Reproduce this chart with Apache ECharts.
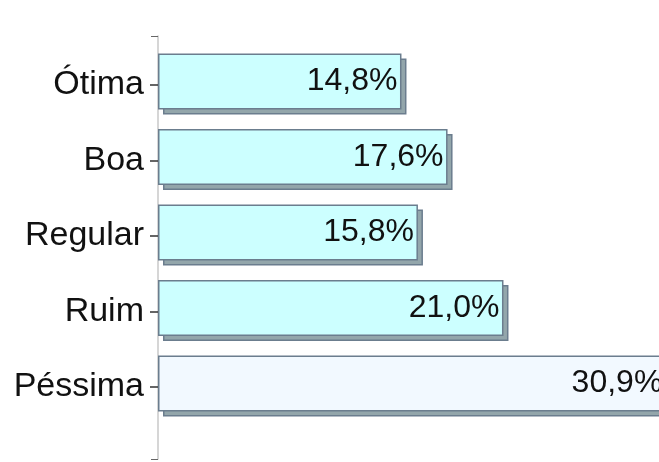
<!DOCTYPE html>
<html>
<head>
<meta charset="utf-8">
<script src="https://cdn.jsdelivr.net/npm/echarts@6/dist/echarts.min.js"></script>
<style>
  html, body { margin: 0; padding: 0; background: #fff; }
  #main { width: 659px; height: 462px; }
</style>
</head>
<body>
<div id="main"></div>
<script>
var categories = ['Ótima', 'Boa', 'Regular', 'Ruim', 'Péssima'];
var values = [14.8, 17.6, 15.8, 21.0, 30.9];
var barColors = ['#ccffff', '#ccffff', '#ccffff', '#ccffff', '#f2f9ff'];

var myChart = echarts.init(document.getElementById('main'));

var fontName = '"Liberation Sans", Arial, sans-serif';

// barras com cor propria
var barData = values.map(function (v, i) {
    return { value: v, itemStyle: { color: barColors[i] } };
});

var option = {
    animation: false,
    grid: [
        { left: 158, width: 510, top: 43.75, height: 377.5, outerBoundsMode: 'none' },  // barras
        { left: 158, width: 510, top: 47.25, height: 377.5, outerBoundsMode: 'none' },  // rotulos e ticks
        { left: 158, width: 510, top: 36, height: 423, outerBoundsMode: 'none' },       // linha do eixo
        { left: 163, width: 510, top: 48.75, height: 377.5, outerBoundsMode: 'none' }   // sombra 3D
    ],
    xAxis: [
        { gridIndex: 0, type: 'value', min: 0, max: 31, show: false },
        { gridIndex: 1, type: 'value', min: 0, max: 31, show: false },
        { gridIndex: 2, type: 'value', min: 0, max: 31, show: false },
        { gridIndex: 3, type: 'value', min: 0, max: 31, show: false }
    ],
    yAxis: [
        { gridIndex: 0, type: 'category', inverse: true, data: categories, show: false },
        {
            gridIndex: 1, type: 'category', inverse: true, data: categories,
            axisLine: { show: false },
            axisTick: { show: true, alignWithLabel: true, length: 8, lineStyle: { color: '#333', width: 1.5 } },
            axisLabel: { margin: 14, fontSize: 34, color: '#111', fontFamily: fontName },
            splitLine: { show: false }
        },
        {
            gridIndex: 2, type: 'value', min: 0, max: 1, interval: 1,
            axisLine: { show: true, lineStyle: { color: '#c8c8c8', width: 1.5 } },
            axisTick: { show: true, length: 7, lineStyle: { color: '#666' } },
            axisLabel: { show: false },
            splitLine: { show: false }
        },
        { gridIndex: 3, type: 'category', inverse: true, data: categories, show: false }
    ],
    series: [{
        // sombra
        type: 'bar',
        xAxisIndex: 3,
        yAxisIndex: 3,
        data: values,
        barWidth: 56,
        clip: false,
        z: 1,
        silent: true,
        itemStyle: { color: '#93a6ab', borderColor: '#6b7d8e', borderWidth: 1.5 }
    }, {
        type: 'bar',
        xAxisIndex: 0,
        yAxisIndex: 0,
        data: barData,
        barWidth: 56,
        clip: false,
        z: 3,
        itemStyle: {
            borderColor: '#6b7d8e',
            borderWidth: 1.5
        },
        label: {
            show: true,
            position: 'insideRight',
            distance: 4,
            fontSize: 32,
            color: '#111',
            fontFamily: fontName,
            formatter: function (p) {
                return p.value.toFixed(1).replace('.', ',') + '%';
            }
        }
    }]
};

myChart.setOption(option);
</script>
</body>
</html>
